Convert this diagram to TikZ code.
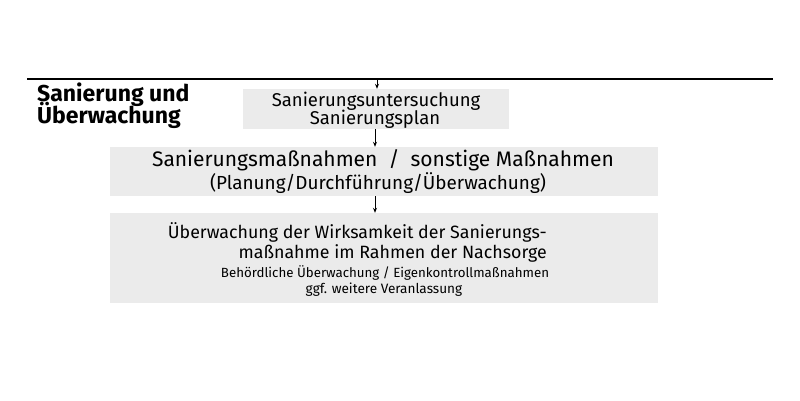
\documentclass[tikz,border=0pt]{standalone}
\usepackage{fontspec}
\setmainfont{Fira Sans}
\usetikzlibrary{arrows.meta}
\definecolor{boxgray}{HTML}{EBEBEB}
\tikzset{
  boxnode/.style={fill=boxgray, draw=none, inner sep=0pt, minimum width=#1},
  txt/.style={inner sep=0pt, anchor=base, text=black},
  flow/.style={-{Stealth[length=5pt,width=4pt]}, line width=0.9pt, black},
}
\begin{document}
\begin{tikzpicture}[x=1pt,y=-1pt]
\useasboundingbox (0,0) rectangle (800,400);
\fill[white] (0,0) rectangle (800,400);
% top rule
\coordinate (ruleL) at (27,79);
\coordinate (ruleR) at (773,79);
\draw[line width=2pt] (ruleL) -- (ruleR);
\coordinate (ruleA) at (377,79);
% boxes
\node[boxnode=266pt, minimum height=40pt] (box1) at (376,109) {};
\node[boxnode=548pt, minimum height=49pt] (box2) at (384,171.5) {};
\node[boxnode=548pt, minimum height=90pt] (box3) at (384,258) {};
% title
\node[txt, anchor=north west, align=left, font=\bfseries\fontsize{23}{20.5}\selectfont] (title) at (37,83) {Sanierung und\\[-6pt]Überwachung};
% box1 text
\node[txt, font=\fontsize{18.5}{22}\selectfont] (b1a) at (376,106) {Sanierungsuntersuchung};
\node[txt, font=\fontsize{18.5}{22}\selectfont] (b1b) at (375,124) {Sanierungsplan};
% box2 text
\node[txt, font=\fontsize{21}{25}\selectfont] (b2a) at (383,166) {Sanierungsmaßnahmen \ / \ sonstige Maßnahmen};
\node[txt, font=\fontsize{18.9}{22}\selectfont] (b2b) at (378,189) {(Planung/Durchführung/Überwachung)};
% box3 text
\node[txt, anchor=base east, font=\fontsize{17.8}{22}\selectfont] (b3a) at (547,238) {Überwachung der Wirksamkeit der Sanierungs-};
\node[txt, anchor=base east, font=\fontsize{17.8}{22}\selectfont] (b3b) at (547,258) {maßnahme im Rahmen der Nachsorge};
\node[txt, font=\fontsize{13.3}{16}\selectfont] (b3c) at (385,277) {Behördliche Überwachung / Eigenkontrollmaßnahmen};
\node[txt, font=\fontsize{13.6}{16}\selectfont] (b3d) at (384,293) {ggf. weitere Veranlassung};
% arrows
\draw[flow] (ruleA) -- (ruleA |- box1.north);
\draw[flow] ([xshift=-1pt]box1.south) -- ([xshift=-1pt]box1.south |- box2.north);
\draw[flow] ([xshift=-1pt]box1.south |- box2.south) -- ([xshift=-1pt]box1.south |- box3.north);
\end{tikzpicture}
\end{document}
